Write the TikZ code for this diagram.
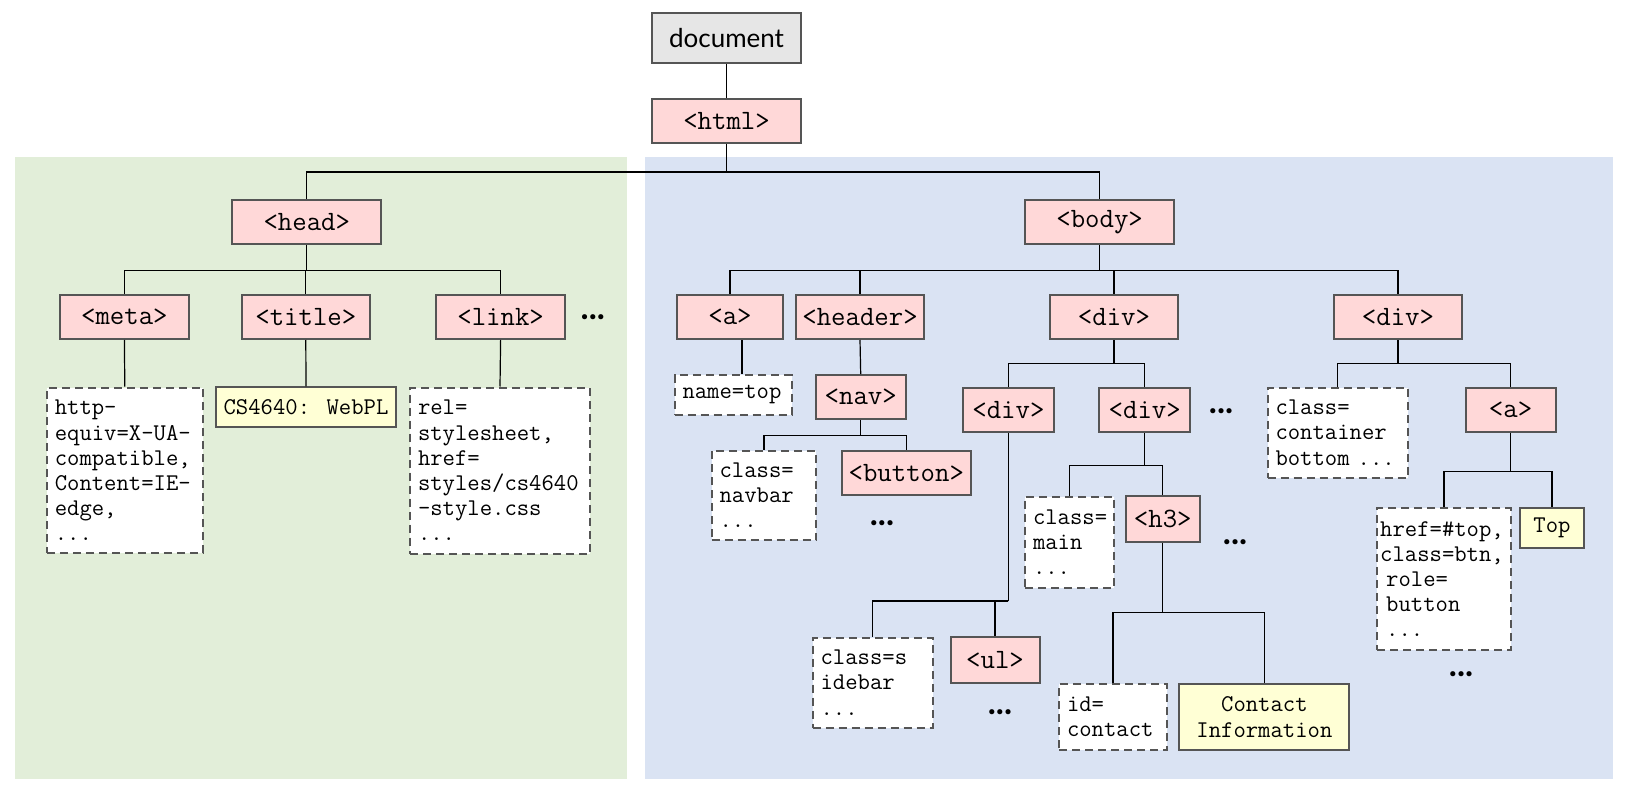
\documentclass[tikz,border=0pt]{standalone}
\usepackage{fontspec}
\newfontfamily\docfont{Lato}
\usepackage{tikz}
\usetikzlibrary{calc}
\definecolor{tagpink}{HTML}{FFD8D8}
\definecolor{txtyellow}{HTML}{FFFFD5}
\definecolor{headgreen}{HTML}{E2EED9}
\definecolor{bodyblue}{HTML}{DAE3F3}
\definecolor{docgray}{HTML}{E6E6E6}
\definecolor{edgegray}{HTML}{555555}
\tikzset{tag/.style={rectangle, draw=edgegray, line width=1pt, fill=tagpink, inner sep=0pt, minimum width=64.3pt, minimum height=22pt, font=\ttfamily\fontsize{14}{16}\selectfont},
attr/.style={rectangle, draw=edgegray, line width=1pt, dash pattern=on 4pt off 2.5pt, fill=white, inner xsep=4pt, inner ysep=0pt, align=left, font=\ttfamily\fontsize{12}{12.6}\selectfont},
txt/.style={rectangle, draw=edgegray, line width=1pt, fill=txtyellow, inner sep=0pt, align=center, font=\ttfamily\fontsize{12}{12.6}\selectfont},
more/.style={font=\docfont\bfseries\fontsize{17}{17}\selectfont},
branch/.style={line width=0.6pt}}

\begin{document}
\begin{tikzpicture}[x=0.5pt,y=-0.5pt]
\useasboundingbox (0,0) rectangle (1625,796);
\fill[headgreen] (14.5,157.5) rectangle (627,779);
\fill[bodyblue] (644.6,157.5) rectangle (1612.6,779);

% root
\node[tag, fill=docgray, font=\docfont\fontsize{13}{15}\selectfont, minimum width=74.5pt, minimum height=25.4pt] (doc) at (726.5,38) {document};
\node[tag, minimum width=74.5pt] (html) at (726.5,121) {<html>};
\node[tag, minimum width=74.5pt, minimum height=22.3pt] (head) at (306.8,222) {<head>};
\node[tag, minimum width=74.5pt, minimum height=22.3pt] (body) at (1099.6,222) {<body>};

% head subtree
\node[tag] (meta) at (124.4,317) {<meta>};
\node[tag] (title) at (305.8,317) {<title>};
\node[tag] (link) at (500.6,317) {<link>};
\node[more] (more1) at (592.8,317) {...};
\node[attr, text width=70pt, minimum height=82.9pt] (metaattr) at (124.8,470.5) {http-\\equiv=X-UA-\\compatible,\\Content=IE-\\edge,\\...};
\node[txt, minimum width=89.7pt, minimum height=19.7pt] (titletxt) at (306,407) {CS4640: WebPL};
\node[attr, text width=82pt, minimum height=83pt] (linkattr) at (500,470.5) {rel=\\stylesheet,\\href=\\styles/cs4640\\-style.css\\...};

% body subtree
\node[tag, minimum width=53.4pt] (a) at (730,317) {<a>};
\node[tag] (header) at (860,317) {<header>};
\node[tag] (divM) at (1114,317) {<div>};
\node[tag] (divF) at (1398,317) {<div>};
\node[attr, text width=50.5pt, minimum height=19.7pt] (nametop) at (733,395) {name=top};
\node[tag, minimum width=45pt, minimum height=21.8pt] (nav) at (860.7,397) {<nav>};
\node[attr, text width=44.4pt, minimum height=44.5pt] (navbar) at (764,495.4) {class=\\navbar\\...};
\node[tag, minimum width=64.8pt, minimum height=22.3pt] (button) at (906.3,473) {<button>};
\node[more] (more2) at (882,523) {...};
\node[tag, minimum width=45.4pt, minimum height=22.3pt] (divA) at (1008.4,410) {<div>};
\node[tag, minimum width=45.4pt, minimum height=22.3pt] (divB) at (1144.7,410) {<div>};
\node[more] (more3) at (1221,411.5) {...};
\node[attr, text width=52pt, minimum height=45pt] (sidebar) at (872.6,682.5) {class=s\\idebar\\...};
\node[tag, minimum width=44.5pt, minimum height=22.8pt] (ul) at (995,660) {<ul>};
\node[more] (more4) at (1000,712) {...};
\node[attr, text width=36.5pt, minimum height=45.5pt] (mainattr) at (1069.5,542) {class=\\main\\...};
\node[tag, minimum width=37.3pt, minimum height=22.8pt] (h3) at (1162.8,519) {<h3>};
\node[more] (more5) at (1235,542) {...};
\node[attr, text width=46pt, minimum height=33pt] (contactattr) at (1113,717) {id=\\contact};
\node[txt, minimum width=85pt, minimum height=33pt] (contacttxt) at (1264.4,717) {Contact\\Information};
\node[attr, text width=62pt, minimum height=45pt] (containerattr) at (1337.5,432.7) {class=\\container\\bottom ...};
\node[tag, minimum width=45pt, minimum height=22.3pt] (aTop) at (1510.6,410) {<a>};
\node[attr, inner xsep=1.5pt, text width=63.8pt, minimum height=71pt] (hrefattr) at (1444,579) {href=\#top,\\class=btn,\\\hspace*{3pt}role=\\\hspace*{3pt}button\\\hspace*{3pt}...};
\node[txt, minimum width=31.6pt, minimum height=20.3pt] (toptxt) at (1552,528) {Top};
\node[more] (more6) at (1461,673.7) {...};

% connectors
\coordinate (htmljoin) at (html.south |- 0,172);
\coordinate (headjoin) at (head.south |- 0,270.5);
\coordinate (bodyjoin) at (body.south |- 0,270.5);
\coordinate (navjoin) at (nav.south |- 0,435.3);
\coordinate (divMjoin) at (divM.south |- 0,363.8);
\coordinate (divAjoin) at (divA.south |- 0,601);
\coordinate (divBjoin) at (divB.south |- 0,465.3);
\coordinate (h3join) at (h3.south |- 0,612.5);
\coordinate (divFjoin) at (divF.south |- 0,363.8);
\coordinate (aTopjoin) at (aTop.south |- 0,471.6);

\draw[branch] (doc.south) -- (html.north);
\draw[branch] (html.south) -- (htmljoin);
\foreach \c in {head,body}
  \draw[branch] (htmljoin) -| (\c.north);
\draw[branch] (head.south) -- (headjoin);
\foreach \c in {meta,title,link}
  \draw[branch] (headjoin) -| (\c.north);
\draw[branch] (meta.south) -- (metaattr.north);
\draw[branch] (title.south) -- (titletxt.north);
\draw[branch] (link.south) -- (linkattr.north);
\draw[branch] (body.south) -- (bodyjoin);
\foreach \c in {a,header,divM,divF}
  \draw[branch] (bodyjoin) -| (\c.north);
\draw[branch] ([xshift=6pt]a.south) -- ([xshift=6pt]a.south |- nametop.north);
\draw[branch] (header.south) -- (nav.north);
\draw[branch] (nav.south) -- (navjoin);
\foreach \c in {navbar,button}
  \draw[branch] (navjoin) -| (\c.north);
\draw[branch] (divM.south) -- (divMjoin);
\foreach \c in {divA,divB}
  \draw[branch] (divMjoin) -| (\c.north);
\draw[branch] (divA.south) -- (divAjoin);
\foreach \c in {sidebar,ul}
  \draw[branch] (divAjoin) -| (\c.north);
\draw[branch] (divB.south) -- (divBjoin);
\foreach \c in {mainattr,h3}
  \draw[branch] (divBjoin) -| (\c.north);
\draw[branch] (h3.south) -- (h3join);
\foreach \c in {contactattr,contacttxt}
  \draw[branch] (h3join) -| (\c.north);
\draw[branch] (divF.south) -- (divFjoin);
\foreach \c in {containerattr,aTop}
  \draw[branch] (divFjoin) -| (\c.north);
\draw[branch] (aTop.south) -- (aTopjoin);
\foreach \c in {hrefattr,toptxt}
  \draw[branch] (aTopjoin) -| (\c.north);
\end{tikzpicture}
\end{document}
